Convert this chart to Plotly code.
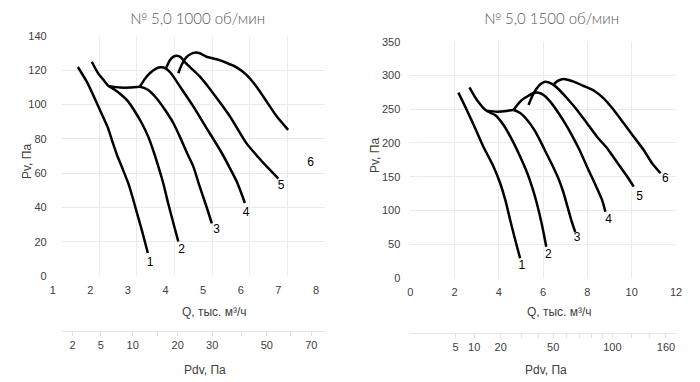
import numpy as np
import plotly.graph_objects as go

# ---------------- data: № 5,0, 1000 об/мин ----------------
L1_Q = [1.43, 1.67, 1.86, 2.04, 2.23, 2.36, 2.47, 2.62, 2.78, 2.89, 3.00, 3.13, 3.29]
L1_P = [121.9, 113.2, 104.4, 95.7, 86.4, 77.6, 70.6, 62.5, 53.5, 45.5, 36.8, 26.8, 13.4]
L2_Q = [1.80, 1.97, 2.11, 2.24, 2.42, 2.59, 2.77, 2.95, 3.13, 3.30, 3.43, 3.57, 3.70, 3.83, 3.97, 4.10]
L2_P = [125.0, 118.2, 114.4, 110.9, 108.5, 105.6, 101.7, 95.8, 89.1, 81.3, 73.5, 63.8, 54.1, 42.4, 30.8, 20.1]
L3_Q = [2.24, 2.55, 2.82, 3.08, 3.30, 3.52, 3.75, 3.97, 4.14, 4.33, 4.50, 4.67, 4.85, 4.99]
L3_P = [110.9, 109.9, 109.9, 110.4, 108.5, 103.7, 96.8, 89.1, 81.3, 71.8, 63.8, 52.1, 40.4, 30.7]
L4_Q = [3.08, 3.21, 3.35, 3.51, 3.64, 3.77, 3.90, 4.17, 4.49, 4.83, 5.21, 5.47, 5.66, 5.87]
L4_P = [110.4, 114.9, 118.4, 121.0, 121.7, 121.0, 118.4, 109.7, 99.2, 87.0, 73.5, 63.0, 54.8, 42.6]
L5_Q = [3.77, 3.88, 3.97, 4.06, 4.16, 4.25, 4.41, 4.67, 5.02, 5.47, 5.91, 6.22, 6.46, 6.76]
L5_P = [121.1, 126.0, 128.0, 128.5, 127.7, 125.4, 121.9, 116.4, 106.8, 93.2, 77.5, 69.4, 63.6, 56.8]
L6_Q = [4.10, 4.19, 4.30, 4.43, 4.54, 4.67, 4.85, 5.12, 5.38, 5.65, 5.92, 6.18, 6.45, 6.71, 7.02]
L6_P = [118.3, 123.2, 127.2, 129.5, 130.3, 129.9, 127.9, 126.4, 124.4, 121.7, 117.2, 110.4, 101.7, 93.3, 85.2]
L_LABEL_Q = [3.35, 4.19, 5.12, 5.90, 6.83, 7.62]
L_LABEL_P = [7.6, 15.2, 26.8, 36.9, 52.5, 65.9]

# ---------------- data: № 5,0, 1500 об/мин ----------------
R1_Q = [2.17, 2.55, 2.93, 3.30, 3.61, 3.76, 4.06, 4.29, 4.51, 4.74, 4.96]
R1_P = [274.5, 248.9, 221.8, 194.5, 174.8, 164.9, 140.3, 115.6, 86.0, 56.3, 29.2]
R2_Q = [2.67, 3.01, 3.43, 3.83, 4.21, 4.59, 4.96, 5.25, 5.50, 5.72, 5.95, 6.14]
R2_P = [282.5, 263.7, 247.9, 241.5, 226.7, 205.0, 180.0, 158.0, 135.0, 110.0, 78.0, 46.4]
R3_Q = [3.43, 3.91, 4.36, 4.65, 4.96, 5.28, 5.60, 5.87, 6.14, 6.41, 6.68, 6.91, 7.09, 7.27, 7.45]
R3_P = [247.9, 246.4, 247.4, 248.9, 244.4, 234.1, 219.3, 203.0, 185.2, 167.4, 148.1, 127.4, 106.7, 85.9, 68.1]
R4_Q = [4.66, 4.83, 5.01, 5.28, 5.57, 5.79, 6.02, 6.32, 6.70, 7.08, 7.45, 7.68, 7.98, 8.36, 8.66, 8.81]
R4_P = [248.9, 256.3, 263.0, 268.9, 274.1, 274.5, 271.1, 261.2, 244.0, 224.1, 201.9, 187.0, 164.9, 138.0, 115.6, 98.2]
R5_Q = [5.34, 5.51, 5.69, 5.89, 6.10, 6.40, 6.70, 7.08, 7.53, 7.98, 8.43, 8.89, 9.17, 9.49, 9.81, 10.09]
R5_P = [256.3, 269.6, 280.0, 287.4, 290.8, 287.4, 279.6, 266.2, 248.9, 229.2, 209.3, 192.1, 179.3, 164.4, 149.6, 135.3]
R6_Q = [6.47, 6.59, 6.75, 6.92, 7.14, 7.38, 7.83, 8.28, 8.73, 9.19, 9.64, 10.09, 10.54, 10.92, 11.30]
R6_P = [285.9, 290.4, 293.3, 294.8, 293.3, 290.8, 284.4, 277.8, 266.2, 248.9, 229.2, 209.3, 189.6, 169.9, 155.1]
R_LABEL_Q = [5.04, 6.24, 7.53, 8.96, 10.36, 11.52]
R_LABEL_P = [17.8, 34.1, 58.8, 85.9, 120.4, 146.2]

CURVE_NAMES = ["1", "2", "3", "4", "5", "6"]

# dynamic-pressure scale: Pdv = K * Q^2  (Q in thousand m3/h)
K_DYN = 1.2
L_PDV_TICKS = [2, 5, 10, 15, 20, 30, 40, 50, 60, 70]
L_PDV_LABELS = ["2", "5", "10", "", "20", "30", "", "50", "", "70"]
R_PDV_TICKS = [5, 10, 20, 30, 40, 50, 60, 70, 80, 90, 100, 120, 140, 160]
R_PDV_LABELS = ["5", "10", "20", "", "", "50", "", "", "", "", "100", "", "", "160"]

TITLES = ["№ 5,0 1000 об/мин", "№ 5,0 1500 об/мин"]

W, H = 700, 382
TICK_FONT = dict(family="Liberation Sans, Arial, sans-serif", size=11, color="#404040")
GRID = "#ebebeb"

fig = go.Figure()
line_style = dict(color="black", width=2.5, shape="spline", smoothing=0.6)

for q, p in [(L1_Q, L1_P), (L2_Q, L2_P), (L3_Q, L3_P), (L4_Q, L4_P), (L5_Q, L5_P), (L6_Q, L6_P)]:
    fig.add_trace(go.Scatter(x=q, y=p, mode="lines", line=line_style, xaxis="x", yaxis="y",
                             hoverinfo="skip", showlegend=False))
for q, p in [(R1_Q, R1_P), (R2_Q, R2_P), (R3_Q, R3_P), (R4_Q, R4_P), (R5_Q, R5_P), (R6_Q, R6_P)]:
    fig.add_trace(go.Scatter(x=q, y=p, mode="lines", line=line_style, xaxis="x2", yaxis="y2",
                             hoverinfo="skip", showlegend=False))

fig.add_trace(go.Scatter(x=L_LABEL_Q, y=L_LABEL_P, text=CURVE_NAMES, mode="text",
                         textfont=dict(family="Liberation Sans, Arial", size=12, color="black"),
                         xaxis="x", yaxis="y", hoverinfo="skip", showlegend=False))
fig.add_trace(go.Scatter(x=R_LABEL_Q, y=R_LABEL_P, text=CURVE_NAMES, mode="text",
                         textfont=dict(family="Liberation Sans, Arial", size=12, color="black"),
                         xaxis="x2", yaxis="y2", hoverinfo="skip", showlegend=False))
# placeholder traces so the Pdv axes are drawn
fig.add_trace(go.Scatter(x=[None], y=[None], xaxis="x3", yaxis="y", showlegend=False, hoverinfo="skip"))
fig.add_trace(go.Scatter(x=[None], y=[None], xaxis="x4", yaxis="y2", showlegend=False, hoverinfo="skip"))

l_pdv_pos = list(np.sqrt(np.array(L_PDV_TICKS) / K_DYN))
r_pdv_pos = list(np.sqrt(np.array(R_PDV_TICKS) / K_DYN))

common = dict(showgrid=True, gridcolor=GRID, gridwidth=1, zeroline=False, showline=False,
              ticks="", tickfont=TICK_FONT, automargin=False)
pdv_common = dict(showgrid=False, zeroline=False, showline=True, linecolor="#e6e6e6",
                  ticks="outside", ticklen=4, tickcolor="#e0e0e0", tickfont=TICK_FONT,
                  automargin=False, anchor="free", side="bottom")

fig.update_layout(
    template="none",
    width=W, height=H, margin=dict(l=0, r=0, t=0, b=0, autoexpand=False),
    paper_bgcolor="white", plot_bgcolor="white",
    xaxis=dict(domain=[61.7 / W, 325 / W], range=[1, 8], tickvals=[1, 2, 3, 4, 5, 6, 7, 8],
               anchor="y", ticklabelshift=-9, ticklabelstandoff=6, **common),
    yaxis=dict(domain=[1 - 276 / H, 1 - 36 / H], range=[0, 140], dtick=20, anchor="x",
               ticklabelstandoff=14, **common),
    xaxis2=dict(domain=[410.3 / W, 676 / W], range=[0, 12], dtick=2, anchor="y2",
                ticklabelstandoff=6, **common),
    yaxis2=dict(domain=[1 - 278 / H, 1 - 41.7 / H], range=[0, 350], dtick=50, anchor="x2",
                ticklabelstandoff=9, **common),
    xaxis3=dict(overlaying="x", position=1 - 331 / H, range=[1, 8],
                tickvals=l_pdv_pos, ticktext=L_PDV_LABELS, **pdv_common),
    xaxis4=dict(overlaying="x2", position=1 - 332.7 / H, range=[0, 12],
                tickvals=r_pdv_pos, ticktext=R_PDV_LABELS, **pdv_common),
)

TITLE_FONT = dict(family="Lato, Noto Sans, sans-serif", size=15, color="#595959", weight=300)
AX_FONT = dict(family="Liberation Sans, Arial, sans-serif", size=12, color="#404040")
ann = [
    dict(text=TITLES[0], x=197 / W, y=1 - 18 / H, font=TITLE_FONT),
    dict(text=TITLES[1], x=551 / W, y=1 - 18 / H, font=TITLE_FONT),
    dict(text="Q, тыс. м³/ч", x=214 / W, y=1 - 312 / H, font=AX_FONT),
    dict(text="Q, тыс. м³/ч", x=559 / W, y=1 - 312 / H, font=AX_FONT),
    dict(text="Pdv, Па", x=205 / W, y=1 - 370 / H, font=AX_FONT),
    dict(text="Pdv, Па", x=546 / W, y=1 - 370 / H, font=AX_FONT),
    dict(text="Pv, Па", x=27 / W, y=1 - 162 / H, font=AX_FONT, textangle=-90),
    dict(text="Pv, Па", x=375 / W, y=1 - 156 / H, font=AX_FONT, textangle=-90),
]
for a in ann:
    a.update(xref="paper", yref="paper", showarrow=False, xanchor="center", yanchor="middle")
fig.update_layout(annotations=ann)

fig.write_html("out.html", config={"displayModeBar": False},
               post_script="document.body.style.margin='0';document.body.style.overflow='hidden';")
